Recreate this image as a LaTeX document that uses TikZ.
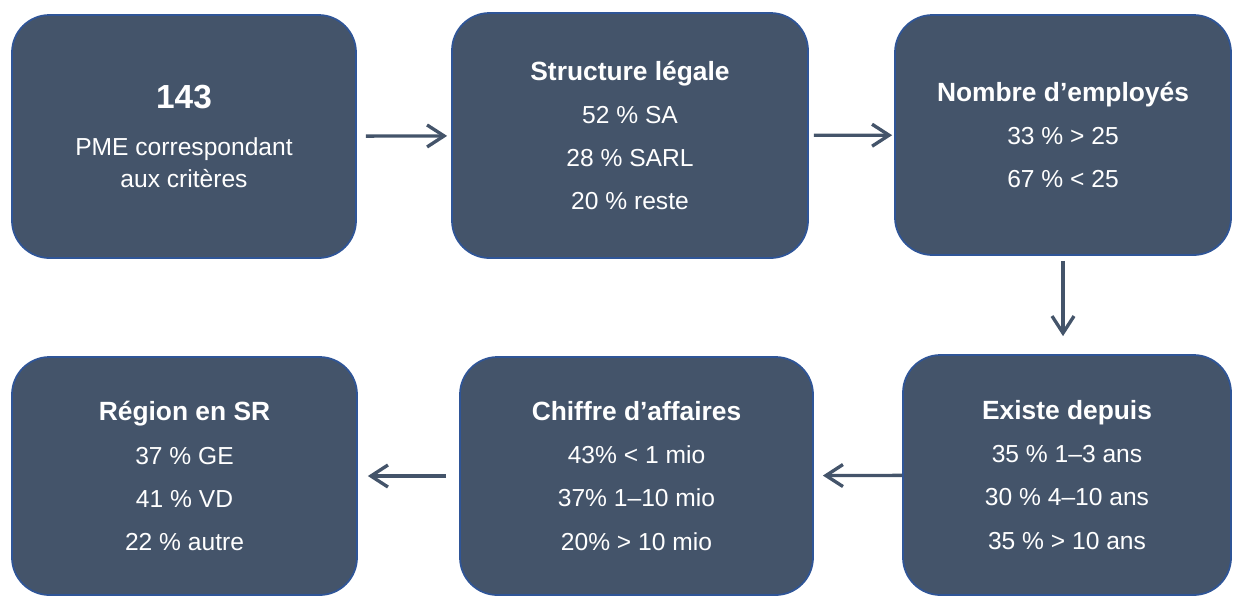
\documentclass[tikz,border=0pt]{standalone}
\usepackage{fontspec}
\setmainfont{Liberation Sans}
\usetikzlibrary{arrows.meta}

\definecolor{ardoise}{HTML}{44546A}
\definecolor{bordbleu}{HTML}{2F5597}

\newcommand{\titre}[1]{{\fontsize{15}{24.5}\selectfont\bfseries #1}}

\begin{document}
\begin{tikzpicture}[
    etape/.style={rectangle, rounded corners=0.75cm, fill=ardoise, draw=bordbleu, line width=1pt,
        text=white, align=center, font=\fontsize{14}{24.5}\selectfont},
    fleche/.style={draw=ardoise, line width=1.9pt, -{Straight Barb[length=3.4mm,width=4.4mm]}}]
    \useasboundingbox (0,0) rectangle (24.66,-11.94);
    % top row
    \node [etape, minimum width=6.88cm, minimum height=4.86cm] (pme) at (3.68,-2.73)
        {{\fontsize{19}{24}\selectfont\bfseries 143}\\[2.5pt] PME correspondant\\[-6.3pt] aux critères};
    \node [etape, minimum width=7.12cm, minimum height=4.9cm] (structure) at (12.6,-2.71)
        {\titre{Structure légale}\\ 52 \% SA\\ 28 \% SARL\\ 20 \% reste};
    \node [etape, minimum width=6.72cm, minimum height=4.8cm] (employes) at (21.26,-2.7)
        {\titre{Nombre d’employés}\\ 33 \% > 25\\ 67 \% < 25};
    % bottom row
    \node [etape, minimum width=6.56cm, minimum height=4.8cm] (existe) at (21.34,-9.5)
        {\titre{Existe depuis}\\ 35 \% 1–3 ans\\ 30 \% 4–10 ans\\ 35 \% > 10 ans};
    \node [etape, minimum width=7.06cm, minimum height=4.76cm] (chiffre) at (12.73,-9.52)
        {\titre{Chiffre d’affaires}\\ 43\% < 1 mio\\ 37\% 1–10 mio\\ 20\% > 10 mio};
    \node [etape, minimum width=6.9cm, minimum height=4.76cm] (region) at (3.69,-9.52)
        {\titre{Région en SR}\\ 37 \% GE\\ 41 \% VD\\ 22 \% autre};
    % arrows
    \draw [fleche, shorten <=0.18cm, shorten >=0.08cm] (pme) -- (structure);
    \draw [fleche, shorten <=0.1cm, shorten >=0.04cm] (structure) -- (employes);
    \draw [fleche, shorten <=0.1cm, shorten >=0.36cm] (employes.south) -- (employes.south |- existe.north);
    \draw [fleche, shorten >=0.18cm] (existe) -- (chiffre);
    \draw [fleche, shorten <=0.26cm, shorten >=0.2cm] (chiffre) -- (region);
\end{tikzpicture}
\end{document}
